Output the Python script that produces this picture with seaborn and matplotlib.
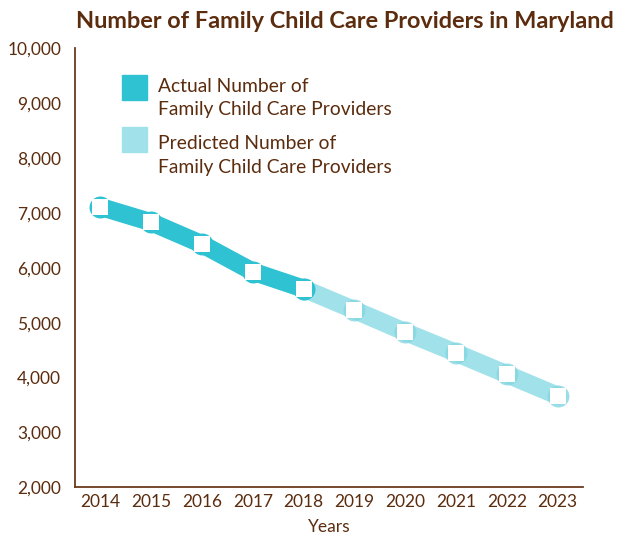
import matplotlib
matplotlib.use("Agg")
import matplotlib.pyplot as plt
import seaborn as sns
import pandas as pd
from matplotlib.patches import Rectangle
from matplotlib.ticker import FixedLocator, FuncFormatter

# ---- data ----
actual_years = [2014, 2015, 2016, 2017, 2018]
actual_values = [7110, 6830, 6430, 5930, 5620]
predicted_years = [2018, 2019, 2020, 2021, 2022, 2023]
predicted_values = [5620, 5230, 4830, 4450, 4060, 3670]
year_labels = ["2014", "2015", "2016", "2017", "2018", "2019", "2020", "2021", "2022", "2023"]
y_ticks = [2000, 3000, 4000, 5000, 6000, 7000, 8000, 9000, 10000]
title = "Number of Family Child Care Providers in Maryland"
x_label = "Years"
legend_lines = [["Actual Number of", "Family Child Care Providers"],
                ["Predicted Number of", "Family Child Care Providers"]]

# ---- style ----
sns.set_theme(style="white")
plt.rcParams["font.family"] = ["Lato", "DejaVu Sans"]
BROWN = "#5b2c0e"
AXIS = "#6a3a1c"
C_ACT = "#2ec2d2"
C_PRED = "#a1e2ea"
C_PRED_HALO = "#84d6e1"

W, H = 620, 536
fig = plt.figure(figsize=(W / 100, H / 100), dpi=100)
ax = fig.add_axes([75 / W, 1 - 487.3 / H, (583 - 75) / W, (487.3 - 48.3) / H])

act = pd.DataFrame({"year": actual_years, "value": actual_values})
pred = pd.DataFrame({"year": predicted_years, "value": predicted_values})

band_lw = 13
sns.lineplot(data=pred, x="year", y="value", ax=ax, color=C_PRED, linewidth=band_lw,
             solid_capstyle="round", solid_joinstyle="round", zorder=2)
sns.scatterplot(data=pred, x="year", y="value", ax=ax, color=C_PRED_HALO, s=250,
                marker="o", linewidth=0, alpha=0.8, zorder=3)
sns.lineplot(data=act, x="year", y="value", ax=ax, color=C_ACT, linewidth=band_lw,
             solid_capstyle="round", solid_joinstyle="round", zorder=4)
sns.scatterplot(data=act, x="year", y="value", ax=ax, color=C_ACT, s=250,
                marker="o", linewidth=0, zorder=5)
all_df = pd.concat([act, pred]).drop_duplicates()
sns.scatterplot(data=all_df, x="year", y="value", ax=ax, color="white", s=140,
                marker="s", linewidth=0, zorder=6)

ax.set_xlim(2013.5, 2023.5)
ax.set_ylim(2000, 10000)
ax.set_yticks(y_ticks)
ax.yaxis.set_major_formatter(FuncFormatter(lambda v, p: f"{int(v):,}"))

years_num = [int(s) for s in year_labels]
ax.xaxis.set_major_locator(FixedLocator([y + 0.5 for y in years_num]))
ax.xaxis.set_major_formatter(FuncFormatter(lambda v, p: ""))
ax.xaxis.set_minor_locator(FixedLocator(years_num))
ax.set_xticklabels(year_labels, minor=True)

ax.tick_params(axis="x", which="major", direction="in", length=11, width=1.1,
               color=AXIS)
ax.tick_params(axis="x", which="minor", length=0, pad=5, labelsize=12.5,
               labelcolor=BROWN)
ax.tick_params(axis="y", direction="in", length=12, width=1.1, color=AXIS,
               pad=10, labelsize=12.5, labelcolor=BROWN)

for s in ["top", "right"]:
    ax.spines[s].set_visible(False)
for s in ["left", "bottom"]:
    ax.spines[s].set_color(AXIS)
    ax.spines[s].set_linewidth(1.3)

ax.set_xlabel(x_label, fontsize=12.5, color=BROWN, labelpad=6)
ax.set_ylabel("")
if ax.get_legend():
    ax.get_legend().remove()

fig.text(76 / W, 1 - 21 / H, title, fontsize=16.9, fontweight="bold",
         color=BROWN, ha="left", va="center")

# legend
entries = [(75, C_ACT, legend_lines[0], (92.5, 115)),
           (126.7, C_PRED, legend_lines[1], (149, 173))]
for (top, col, lines, baselines) in entries:
    fig.patches.append(Rectangle((122 / W, 1 - (top + 25) / H), 25 / W, 25 / H,
                                 transform=fig.transFigure, color=col))
    for line, bl in zip(lines, baselines):
        fig.text(158 / W, 1 - bl / H, line, fontsize=13.9, color=BROWN,
                 ha="left", va="baseline")

fig.savefig("out.png", dpi=100)
